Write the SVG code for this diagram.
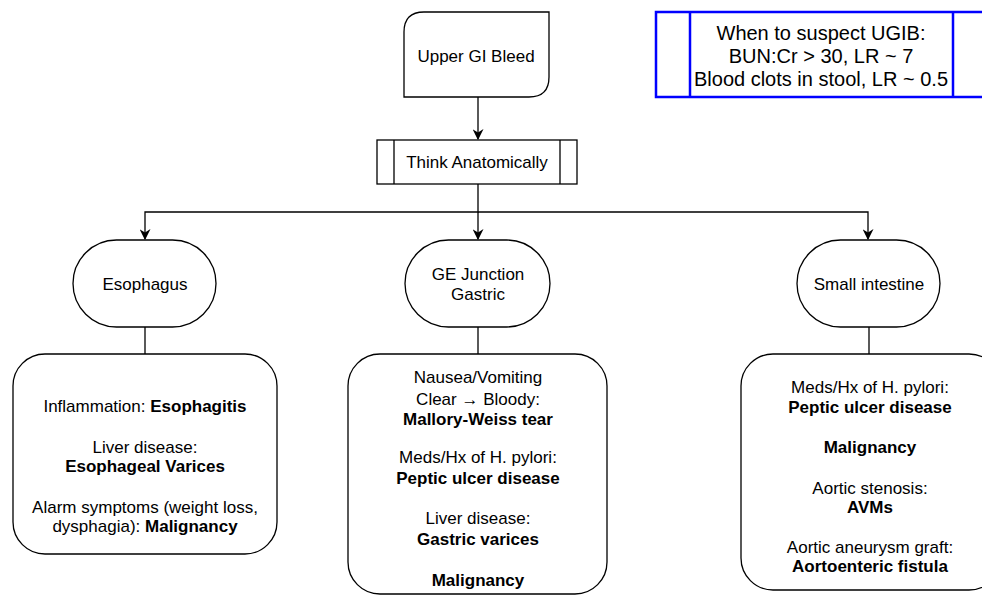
<svg xmlns="http://www.w3.org/2000/svg" width="982" height="595" viewBox="0 0 982 595">
<defs>
<marker id="arr" viewBox="0 0 10 10" refX="9" refY="5" markerWidth="11" markerHeight="11" markerUnits="userSpaceOnUse" orient="auto">
<path d="M0,0 L10,5 L0,10 L3,5 Z" fill="#000"/>
</marker>
<style>
.s{fill:#fff;stroke:#000;stroke-width:1.3}
.c{fill:none;stroke:#000;stroke-width:1.3}
text{font-family:"Liberation Sans",Arial,Helvetica,sans-serif;font-size:17px;fill:#000;text-anchor:middle}
.b{font-weight:bold}
.big{font-size:20px}
</style>
</defs>
<rect width="982" height="595" fill="#fff"/>
<g id="connectors">
<path class="c" d="M478,97 V139" marker-end="url(#arr)"/>
<path class="c" d="M478,184 V212 H145 V239" marker-end="url(#arr)"/>
<path class="c" d="M478,212 V239" marker-end="url(#arr)"/>
<path class="c" d="M478,212 H868 V239" marker-end="url(#arr)"/>
<path class="c" d="M145,327 V354"/>
<path class="c" d="M478,327 V354"/>
<path class="c" d="M869,327 V354"/>
</g>
<g id="upper-gi-bleed">
<path class="s" d="M424,12 H549 V77 Q549,97 529,97 H404 V32 Q404,12 424,12 Z"/>
<text x="476" y="62">Upper GI Bleed</text>
</g>
<g id="think-anatomically">
<rect class="s" x="377" y="140" width="200" height="44"/>
<path class="c" d="M394,140 V184 M560,140 V184"/>
<text x="477" y="168">Think Anatomically</text>
</g>
<g id="ugib-note">
<rect x="656" y="12" width="334" height="85" fill="#fff" stroke="#0000ff" stroke-width="2.5"/>
<path d="M690,12 V97 M953,12 V97" stroke="#0000ff" stroke-width="2.5" fill="none"/>
<text class="big" x="821" y="40">When to suspect UGIB:</text>
<text class="big" x="821" y="63">BUN:Cr &gt; 30, LR ~ 7</text>
<text class="big" x="821" y="86">Blood clots in stool, LR ~ 0.5</text>
</g>
<g id="esophagus">
<rect class="s" x="73" y="240" width="143" height="87" rx="43.5" ry="43.5"/>
<text x="145" y="290">Esophagus</text>
</g>
<g id="ge-junction">
<rect class="s" x="405" y="240" width="145" height="87" rx="43.5" ry="43.5"/>
<text x="478" y="280">GE Junction</text>
<text x="478" y="300">Gastric</text>
</g>
<g id="small-intestine">
<rect class="s" x="797" y="240" width="143" height="87" rx="43.5" ry="43.5"/>
<text x="869" y="290">Small intestine</text>
</g>
<g id="esophagus-causes">
<rect class="s" x="13" y="354" width="264" height="200" rx="32" ry="32"/>
<text x="145" y="412">Inflammation: <tspan class="b">Esophagitis</tspan></text>
<text x="145" y="453">Liver disease:</text>
<text x="145" y="472" class="b">Esophageal Varices</text>
<text x="145" y="513">Alarm symptoms (weight loss,</text>
<text x="145" y="532">dysphagia): <tspan class="b">Malignancy</tspan></text>
</g>
<g id="gastric-causes">
<rect class="s" x="348" y="354" width="259" height="240" rx="32" ry="32"/>
<text x="478" y="383">Nausea/Vomiting</text>
<text x="478" y="405">Clear → Bloody:</text>
<text x="478" y="425" class="b">Mallory-Weiss tear</text>
<text x="478" y="463">Meds/Hx of H. pylori:</text>
<text x="478" y="484" class="b">Peptic ulcer disease</text>
<text x="478" y="524">Liver disease:</text>
<text x="478" y="545" class="b">Gastric varices</text>
<text x="478" y="586" class="b">Malignancy</text>
</g>
<g id="small-intestine-causes">
<rect class="s" x="741" y="354" width="260" height="236" rx="32" ry="32"/>
<text x="870" y="393">Meds/Hx of H. pylori:</text>
<text x="870" y="413" class="b">Peptic ulcer disease</text>
<text x="870" y="453" class="b">Malignancy</text>
<text x="870" y="494">Aortic stenosis:</text>
<text x="870" y="513" class="b">AVMs</text>
<text x="870" y="553">Aortic aneurysm graft:</text>
<text x="870" y="572" class="b">Aortoenteric fistula</text>
</g>
</svg>
